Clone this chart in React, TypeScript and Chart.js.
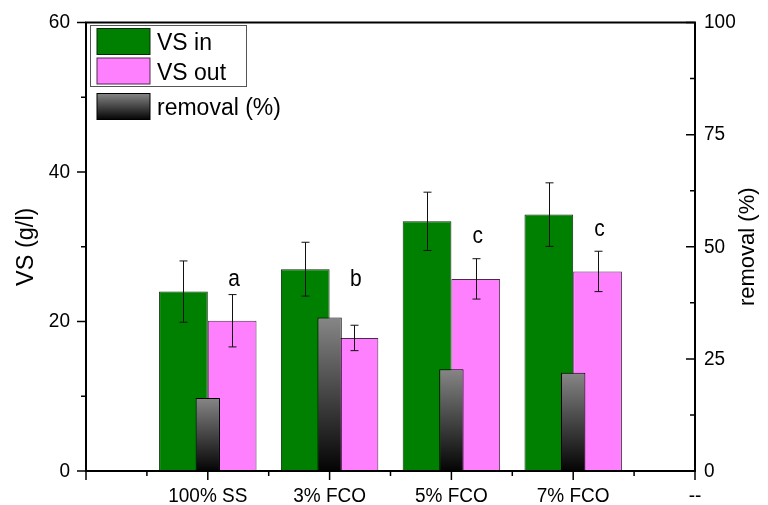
import { useEffect, useRef } from 'react';
import { Chart, registerables } from 'chart.js';

Chart.register(...registerables);

// Samples and measured values
const categories = ['100% SS', '3% FCO', '5% FCO', '7% FCO'];
const axisLabels = ['', ...categories, '--'];
const vsIn = [24.0, 27.0, 33.4, 34.3];
const vsInErr = [4.1, 3.6, 3.9, 4.25];
const vsOut = [20.1, 17.8, 25.7, 26.7];
const vsOutErr = [3.5, 1.7, 2.7, 2.7];
const removal = [16.3, 34.2, 22.7, 21.9];
// significance letters and the VS level (g/l) of their baseline
const groupLetters = ['a', 'b', 'c', 'c'];
const letterLevels = [24.7, 24.7, 30.5, 31.4];
const vsTicks = [0, 20, 40, 60];
const removalTicks = [0, 25, 50, 75, 100];

const FONT = '"Liberation Sans", Arial, sans-serif';
const GREEN = '#008000';
const PINK = '#ff80ff';
const TICK_FONT = `19px ${FONT}`;
const TICK_STRETCH = 1.1; // tick labels are slightly tall

const pad = (arr: number[]) => [null, ...arr, null];

function greyGradient(ctx: CanvasRenderingContext2D, top: number, bottom: number) {
  const g = ctx.createLinearGradient(0, top, 0, bottom);
  g.addColorStop(0, '#868686');
  g.addColorStop(1, '#040404');
  return g;
}

function tallText(
  ctx: CanvasRenderingContext2D,
  text: string,
  x: number,
  y: number,
  align: CanvasTextAlign,
  baseline: CanvasTextBaseline,
) {
  ctx.save();
  ctx.translate(x, y);
  ctx.scale(1, TICK_STRETCH);
  ctx.textAlign = align;
  ctx.textBaseline = baseline;
  ctx.fillText(text, 0, 0);
  ctx.restore();
}

const decorations = {
  id: 'decorations',
  afterDatasetsDraw(chart: any) {
    const ctx: CanvasRenderingContext2D = chart.ctx;
    const y = chart.scales.y;
    const series = [
      { index: 0, values: vsIn, errs: vsInErr },
      { index: 1, values: vsOut, errs: vsOutErr },
    ];
    ctx.save();
    ctx.strokeStyle = '#111';
    ctx.lineWidth = 1;
    for (const s of series) {
      const meta = chart.getDatasetMeta(s.index);
      s.values.forEach((v, i) => {
        const bar = meta.data[i + 1];
        if (!bar) return;
        const x = Math.round(bar.x) + 0.5;
        const yt = y.getPixelForValue(v + s.errs[i]);
        const yb = y.getPixelForValue(v - s.errs[i]);
        ctx.beginPath();
        ctx.moveTo(x, yt);
        ctx.lineTo(x, yb);
        ctx.moveTo(x - 4, yt);
        ctx.lineTo(x + 4, yt);
        ctx.moveTo(x - 4, yb);
        ctx.lineTo(x + 4, yb);
        ctx.stroke();
      });
    }
    // letters
    const pinkMeta = chart.getDatasetMeta(1);
    ctx.fillStyle = '#000';
    ctx.font = `21px ${FONT}`;
    groupLetters.forEach((l, i) => {
      const bar = pinkMeta.data[i + 1];
      if (!bar) return;
      tallText(ctx, l, bar.x + 2, y.getPixelForValue(letterLevels[i]), 'center', 'alphabetic');
    });
    ctx.restore();
  },
  afterDraw(chart: any) {
    const ctx: CanvasRenderingContext2D = chart.ctx;
    const { left, right, top, bottom } = chart.chartArea;
    const x = chart.scales.x;
    const y = chart.scales.y;
    const y1 = chart.scales.y1;
    ctx.save();
    ctx.strokeStyle = '#000';
    ctx.lineWidth = 2;
    ctx.strokeRect(left, top, right - left, bottom - top);

    ctx.lineWidth = 1.5;
    ctx.beginPath();
    // bottom axis ticks
    const xs = axisLabels.map((_, k) => x.getPixelForValue(k));
    xs.forEach((px, k) => {
      ctx.moveTo(px, bottom);
      ctx.lineTo(px, bottom + 9);
      if (k < xs.length - 1) {
        const m = (px + xs[k + 1]) / 2;
        ctx.moveTo(m, bottom);
        ctx.lineTo(m, bottom + 5);
      }
    });
    // left axis ticks (outward)
    vsTicks.forEach((v, k) => {
      const py = y.getPixelForValue(v);
      ctx.moveTo(left, py);
      ctx.lineTo(left - 9, py);
      if (k < vsTicks.length - 1) {
        const m = y.getPixelForValue((v + vsTicks[k + 1]) / 2);
        ctx.moveTo(left, m);
        ctx.lineTo(left - 5, m);
      }
    });
    // right axis ticks (inward)
    removalTicks.forEach((v, k) => {
      const py = y1.getPixelForValue(v);
      ctx.moveTo(right, py);
      ctx.lineTo(right - 9, py);
      if (k < removalTicks.length - 1) {
        const m = y1.getPixelForValue((v + removalTicks[k + 1]) / 2);
        ctx.moveTo(right, m);
        ctx.lineTo(right - 5, m);
      }
    });
    ctx.stroke();

    // tick labels
    ctx.fillStyle = '#000';
    ctx.font = TICK_FONT;
    vsTicks.forEach((v) => tallText(ctx, String(v), left - 16, y.getPixelForValue(v), 'right', 'middle'));
    removalTicks.forEach((v) =>
      tallText(ctx, String(v), right + 9, y1.getPixelForValue(v), 'left', 'middle'),
    );
    axisLabels.forEach((l, k) => {
      if (l) tallText(ctx, l, x.getPixelForValue(k), bottom + 30.5, 'center', 'alphabetic');
    });

    // axis titles
    const midY = (top + bottom) / 2;
    ctx.textAlign = 'center';
    ctx.textBaseline = 'middle';
    ctx.save();
    ctx.font = `23.5px ${FONT}`;
    ctx.translate(27, midY);
    ctx.rotate(-Math.PI / 2);
    ctx.fillText('VS (g/l)', 0, 0);
    ctx.restore();
    ctx.save();
    ctx.font = `22px ${FONT}`;
    ctx.translate(748, midY);
    ctx.rotate(-Math.PI / 2);
    ctx.fillText('removal (%)', 0, 0);
    ctx.restore();

    // legend
    ctx.lineWidth = 1;
    ctx.strokeStyle = '#555';
    ctx.strokeRect(90.5, 25.5, 156, 61);
    const sx = 97, sw = 53, sh = 26;
    const rows = [
      { label: 'VS in', fill: GREEN as any, border: '#0b2a0b', yTop: 28.5 },
      { label: 'VS out', fill: PINK as any, border: '#4a2a4a', yTop: 58 },
      { label: 'removal (%)', fill: null as any, border: '#000', yTop: 93.5 },
    ];
    ctx.font = `23px ${FONT}`;
    ctx.textAlign = 'left';
    ctx.textBaseline = 'alphabetic';
    rows.forEach((r) => {
      ctx.fillStyle = r.fill ?? greyGradient(ctx, r.yTop, r.yTop + sh);
      ctx.fillRect(sx, r.yTop, sw, sh);
      ctx.strokeStyle = r.border;
      ctx.strokeRect(sx, r.yTop, sw, sh);
      ctx.fillStyle = '#000';
      ctx.save();
      ctx.translate(157, r.yTop + sh / 2 + 8.5);
      ctx.scale(1, 1.04);
      ctx.fillText(r.label, 0, 0);
      ctx.restore();
    });
    ctx.restore();
  },
};

export default function App() {
  const canvasRef = useRef<HTMLCanvasElement | null>(null);

  useEffect(() => {
    const canvas = canvasRef.current;
    if (!canvas) return;
    const noGrid = { display: false, drawTicks: false, tickLength: 0 };
    const chart = new Chart(canvas, {
      type: 'bar',
      data: {
        labels: axisLabels,
        datasets: [
          {
            label: 'VS in',
            data: pad(vsIn),
            backgroundColor: GREEN,
            borderColor: '#0b2a0b',
            borderWidth: 1,
            borderSkipped: false,
            categoryPercentage: 0.8,
            barPercentage: 1,
            yAxisID: 'y',
            order: 1,
          },
          {
            label: 'VS out',
            data: pad(vsOut),
            backgroundColor: PINK,
            borderColor: '#4a2a4a',
            borderWidth: 1,
            borderSkipped: false,
            categoryPercentage: 0.8,
            barPercentage: 1,
            yAxisID: 'y',
            order: 1,
          },
          {
            label: 'removal (%)',
            data: pad(removal),
            backgroundColor: (c: any) => {
              const ch = c.chart;
              const v = c.parsed?.y;
              const s = ch.scales?.y1;
              if (v == null || !s) return '#555';
              return greyGradient(ch.ctx, s.getPixelForValue(v), s.getPixelForValue(0));
            },
            borderColor: '#000',
            borderWidth: 1,
            borderSkipped: false,
            grouped: false,
            categoryPercentage: 0.2,
            barPercentage: 1,
            yAxisID: 'y1',
            order: 0,
          },
        ],
      },
      options: {
        responsive: false,
        animation: false,
        layout: { padding: { top: 22.5, left: 0, right: 0, bottom: 0 } },
        plugins: {
          legend: { display: false },
          tooltip: { enabled: false },
        },
        scales: {
          x: {
            type: 'category',
            offset: false,
            grid: noGrid,
            border: { display: false },
            ticks: { display: false, autoSkip: false },
            afterFit: (s: any) => {
              s.height = 34;
            },
          },
          y: {
            position: 'left',
            min: 0,
            max: 60,
            grid: noGrid,
            border: { display: false },
            ticks: { display: false, stepSize: 20 },
            afterFit: (s: any) => {
              s.width = 86;
            },
          },
          y1: {
            position: 'right',
            min: 0,
            max: 100,
            grid: noGrid,
            border: { display: false },
            ticks: { display: false, stepSize: 25 },
            afterFit: (s: any) => {
              s.width = 73;
            },
          },
        },
      },
      plugins: [decorations],
    } as any);
    return () => chart.destroy();
  }, []);

  return (
    <div style={{ position: 'fixed', left: 0, top: 0, width: 768, height: 505, background: '#fff' }}>
      <canvas ref={canvasRef} width={768} height={505} style={{ display: 'block' }} />
    </div>
  );
}
